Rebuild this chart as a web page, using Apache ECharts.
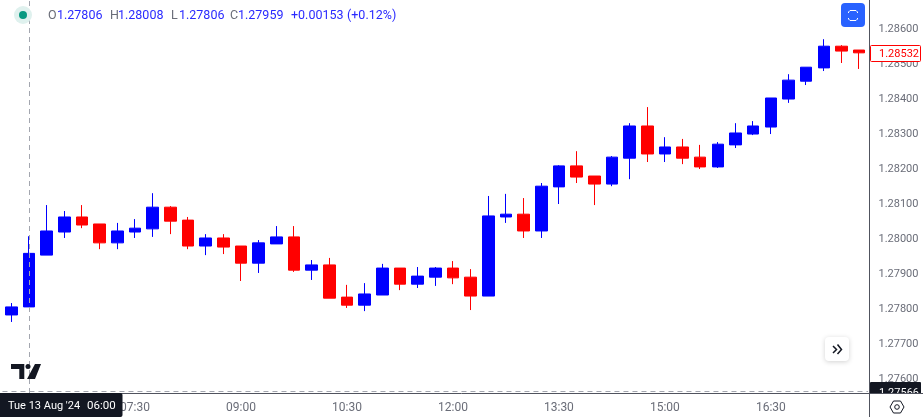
<!DOCTYPE html>
<html>
<head>
<meta charset="utf-8">
<title>GBPUSD 15m</title>
<style>
  html, body { margin: 0; padding: 0; background: #fff; }
  #chart { width: 923px; height: 417px; }
</style>
<script src="https://cdn.jsdelivr.net/npm/echarts@6/dist/echarts.min.js"></script>
</head>
<body>
<div id="chart"></div>
<script>
// 15 minute candles
const times = ['05:45','06:00','06:15','06:30','06:45','07:00','07:15','07:30','07:45','08:00','08:15','08:30','08:45',
  '09:00','09:15','09:30','09:45','10:00','10:15','10:30','10:45','11:00','11:15','11:30','11:45','12:00','12:15',
  '12:30','12:45','13:00','13:15','13:30','13:45','14:00','14:15','14:30','14:45','15:00','15:15','15:30','15:45',
  '16:00','16:15','16:30','16:45','17:00','17:15','17:30','17:45']
const opens = [1.27783,1.27806,1.27954,1.28020,1.28063,1.28043,1.27989,1.28020,1.28029,1.28091,1.28054,1.27980,1.28003,
  1.27980,1.27931,1.27986,1.28006,1.27911,1.27926,1.27834,1.27811,1.27840,1.27917,1.27871,1.27891,1.27917,1.27891,
  1.27837,1.28063,1.28071,1.28023,1.28149,1.28209,1.28180,1.28157,1.28231,1.28323,1.28243,1.28263,1.28234,1.28206,
  1.28269,1.28300,1.28320,1.28400,1.28451,1.28489,1.28551,1.28540]
const closes = [1.27806,1.27959,1.28023,1.28063,1.28040,1.27989,1.28023,1.28031,1.28091,1.28051,1.27980,1.28003,1.27977,
  1.27931,1.27989,1.28006,1.27911,1.27926,1.27831,1.27811,1.27843,1.27917,1.27871,1.27894,1.27917,1.27889,1.27837,
  1.28066,1.28071,1.28023,1.28151,1.28209,1.28177,1.28157,1.28234,1.28323,1.28243,1.28263,1.28231,1.28206,1.28271,
  1.28303,1.28323,1.28403,1.28454,1.28491,1.28551,1.28537,1.28532]
const lows = [1.27763,1.27806,1.27954,1.28003,1.28031,1.27971,1.27971,1.28003,1.28006,1.28014,1.27971,1.27954,1.27957,
  1.27880,1.27903,1.27986,1.27906,1.27883,1.27831,1.27803,1.27794,1.27840,1.27854,1.27860,1.27866,1.27871,1.27797,
  1.27837,1.28046,1.28003,1.28003,1.28100,1.28160,1.28097,1.28151,1.28171,1.28220,1.28220,1.28214,1.28200,1.28203,
  1.28260,1.28297,1.28300,1.28389,1.28440,1.28480,1.28503,1.28486]
const highs = [1.27817,1.28008,1.28097,1.28080,1.28097,1.28043,1.28046,1.28057,1.28131,1.28094,1.28063,1.28014,1.28014,
  1.27980,1.27997,1.28037,1.28037,1.27940,1.27946,1.27869,1.27874,1.27929,1.27917,1.27920,1.27920,1.27937,1.27914,
  1.28123,1.28129,1.28117,1.28160,1.28211,1.28251,1.28180,1.28237,1.28331,1.28377,1.28291,1.28286,1.28269,1.28277,
  1.28331,1.28337,1.28403,1.28471,1.28491,1.28571,1.28554,1.28540]

const timeTicks = ['07:30','09:00','10:30','12:00','13:30','15:00','16:30']
const priceTicks = [1.276,1.277,1.278,1.279,1.28,1.281,1.282,1.283,1.284,1.285,1.286]
const cursorTime = '06:00'
const cursorPrice = 1.27566
const lastPrice = 1.28532
const headerText = [
  ['O', '1.27806'], ['H', '1.28008'], ['L', '1.27806'], ['C', '1.27959'], ['', '+0.00153'], ['', '(+0.12%)']
]
const cursorDate = "Tue 13 Aug '24"

const UP = '#0000ff'
const DOWN = '#ff0000'
const GREY = '#6a6d78'
const LINE = '#50535e'
const DARK = '#131722'
const FONT = 'Roboto, sans-serif'

const chart = echarts.init(document.getElementById('chart'), null, { renderer: 'canvas' })

function txt(x, y, text, fill, font, z) {
  return {
    type: 'text', z: z || 100, silent: true,
    style: { x: x, y: y, text: text, fill: fill, font: font, align: 'left', verticalAlign: 'middle' }
  }
}
function stroke(points, color, width, z) {
  return {
    type: 'polyline', z: z || 101, silent: true,
    shape: { points: points },
    style: { fill: 'none', stroke: color, lineWidth: width }
  }
}

// header labels sit at fixed x positions
const headerX = [48, 110, 171, 230, 291, 347]
function headerGraphics() {
  const out = []
  headerText.forEach((item, i) => {
    const labelWidth = item[0] === 'O' ? 9 : item[0] === '' ? 0 : 8
    if (item[0]) {
      out.push(txt(headerX[i], 16, item[0], GREY, '12.5px ' + FONT))
    }
    out.push(txt(headerX[i] + labelWidth, 16, item[1], '#2a2aff', '12.5px ' + FONT))
  })
  return out
}

chart.setOption({
  animation: false,
  backgroundColor: '#ffffff',
  grid: { left: 2.47, width: 865.6, top: 0, height: 393 },
  xAxis: {
    type: 'category',
    data: times,
    boundaryGap: true,
    axisLine: { show: false },
    axisTick: { show: false },
    splitLine: { show: false },
    axisLabel: {
      color: GREY,
      fontFamily: FONT,
      fontSize: 12,
      margin: 9,
      hideOverlap: false,
      interval(index, value) {
        return timeTicks.includes(value)
      }
    }
  },
  yAxis: {
    type: 'value',
    position: 'right',
    offset: 1.4,
    min: 1.2756,
    max: 1.28683,
    scale: true,
    axisLine: { show: false },
    axisTick: { show: false },
    splitLine: { show: false },
    axisLabel: {
      color: GREY,
      fontFamily: FONT,
      fontSize: 11,
      margin: 9,
      padding: [4, 0, 0, 0],
      customValues: priceTicks,
      showMinLabel: true,
      showMaxLabel: true,
      formatter(value) {
        return value.toFixed(5)
      }
    }
  },
  series: [
    {
      type: 'candlestick',
      barWidth: 12,
      data: times.map((t, i) => [opens[i], closes[i], lows[i], highs[i]]),
      itemStyle: {
        color: UP,
        color0: DOWN,
        borderColor: UP,
        borderColor0: DOWN,
        borderWidth: 1
      },
      markLine: {
        silent: true,
        symbol: 'none',
        animation: false,
        precision: 5,
        label: { show: false },
        lineStyle: { color: '#a3a6af', type: [5, 4], width: 1 },
        data: [{ xAxis: cursorTime }, { yAxis: cursorPrice }]
      }
    }
  ],
  graphic: [
    // status dot
    { type: 'circle', z: 100, silent: true, shape: { cx: 23, cy: 15, r: 9 }, style: { fill: '#dff1ee' } },
    { type: 'circle', z: 100, silent: true, shape: { cx: 23, cy: 15, r: 4 }, style: { fill: '#089981' } },
    ...headerGraphics(),
    // fullscreen button
    { type: 'rect', z: 100, silent: true, shape: { x: 841, y: 3, width: 24, height: 24, r: 4 }, style: { fill: '#2962ff' } },
    stroke([[848.5, 13], [848.5, 12], [850, 10.5], [856, 10.5], [857.5, 12], [857.5, 13]], '#ffffff', 1),
    stroke([[848.5, 18], [848.5, 19], [850, 20.5], [856, 20.5], [857.5, 19], [857.5, 18]], '#ffffff', 1),
    // scroll to latest button
    {
      type: 'rect', z: 100, silent: true, shape: { x: 825, y: 337, width: 24, height: 24, r: 4 },
      style: { fill: '#ffffff', shadowBlur: 5, shadowColor: 'rgba(0,0,0,0.18)', shadowOffsetY: 1 }
    },
    stroke([[833, 346], [836.5, 349.5], [833, 353]], DARK, 1.5),
    stroke([[837.5, 344.5], [841.5, 349.5], [837.5, 354]], DARK, 1.5),
    // logo
    {
      type: 'polygon', z: 100, silent: true,
      shape: { points: [[11, 364], [24.3, 364], [24.3, 379], [19.3, 379], [19.3, 369], [11, 369]] },
      style: { fill: DARK }
    },
    { type: 'polygon', z: 100, silent: true, shape: { points: [[35, 364], [41, 364], [35, 379], [27, 379]] }, style: { fill: DARK } },
    { type: 'circle', z: 100, silent: true, shape: { cx: 28, cy: 366.6, r: 2.5 }, style: { fill: DARK } },
    // price labels on the axis
    {
      type: 'rect', z: 100, silent: true, shape: { x: 870.5, y: 45.5, width: 50, height: 16, r: 1 },
      style: { fill: '#ffffff', stroke: DOWN, lineWidth: 1 }
    },
    txt(879, 54.5, lastPrice.toFixed(5), DOWN, '11px ' + FONT, 101),
    { type: 'rect', z: 100, silent: true, shape: { x: 870, y: 382, width: 51, height: 18, r: 1 }, style: { fill: DARK } },
    txt(879, 393, cursorPrice.toFixed(5), '#ffffff', '11px ' + FONT, 101),
    { type: 'rect', z: 102, silent: true, shape: { x: 870, y: 393, width: 53, height: 24 }, style: { fill: '#ffffff' } },
    // axis lines
    { type: 'line', z: 103, silent: true, shape: { x1: 0, y1: 393.5, x2: 923, y2: 393.5 }, style: { stroke: LINE, lineWidth: 1 } },
    { type: 'line', z: 103, silent: true, shape: { x1: 869.5, y1: 0, x2: 869.5, y2: 417 }, style: { stroke: LINE, lineWidth: 1 } },
    // settings icon
    {
      type: 'polygon', z: 104, silent: true,
      shape: { points: [[890, 407], [893.5, 401], [900.5, 401], [904, 407], [900.5, 413], [893.5, 413]] },
      style: { fill: 'none', stroke: DARK, lineWidth: 1 }
    },
    { type: 'circle', z: 104, silent: true, shape: { cx: 897, cy: 407, r: 2.3 }, style: { fill: 'none', stroke: DARK, lineWidth: 1 } },
    // cursor time label
    { type: 'rect', z: 104, silent: true, shape: { x: 0, y: 393, width: 122.5, height: 24, r: [0, 2, 2, 0] }, style: { fill: DARK } },
    txt(8, 406.5, cursorDate, '#ffffff', '11px ' + FONT, 105),
    txt(87, 406.5, cursorTime, '#ffffff', '11.5px ' + FONT, 105)
  ]
})
</script>
</body>
</html>
